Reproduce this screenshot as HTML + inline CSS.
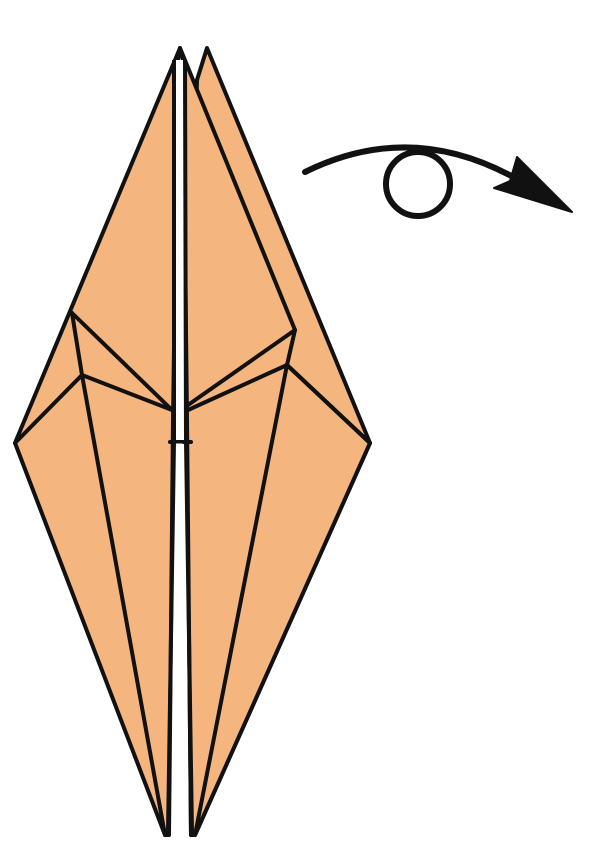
<!DOCTYPE html>
<html><head><meta charset="utf-8"><style>html,body{margin:0;padding:0;background:#fff}svg{display:block}</style></head>
<body>
<svg width="604" height="844" viewBox="0 0 604 844">
<g stroke="#111" stroke-width="4" stroke-linejoin="round" stroke-linecap="round" fill="#f4b57f">
 <polygon points="207,48 370,443 195,835 191,835 187,420 197,80"/>
 <polygon points="180,48 15,443 165,835 169,835 173,420 178,60"/>
 <polygon points="180,48 295,330 287,365 370,443 195,835 191,835 187,420 183,60"/>
 <g fill="none">
  <polyline points="15,443 82,375 172,410"/>
  <polyline points="72,313 172,410"/>
  <polyline points="72,313 82,375 165,835"/>
  <polyline points="295,330 188,405"/>
  <polyline points="370,443 287,365 188,410"/>
  <polyline points="287,365 195,835"/>
  <line x1="170" y1="442" x2="191" y2="442"/>
 </g>
</g>
<rect x="175" y="60" width="9" height="380" fill="#fff"/>
<line x1="174" y1="60" x2="174" y2="440" stroke="#111" stroke-width="4"/>
<line x1="185" y1="60" x2="186" y2="440" stroke="#111" stroke-width="4"/>
<polygon points="175.5,442 182.5,442 188.5,833 171.5,833" fill="#fff"/>
<line x1="174" y1="442" x2="168" y2="833" stroke="#111" stroke-width="4"/>
<line x1="186" y1="442" x2="192" y2="833" stroke="#111" stroke-width="4"/>
<line x1="170" y1="442" x2="191" y2="442" stroke="#111" stroke-width="3"/>
<g stroke="#111" fill="none" stroke-width="6" stroke-linecap="round">
 <path d="M305,172 Q410,120 515,178"/>
 <circle cx="418" cy="184" r="32"/>
 <polygon points="572,212 494,188 510,181 517,157" fill="#111" stroke-width="2" stroke-linejoin="round"/>
</g>
</svg>
</body></html>
